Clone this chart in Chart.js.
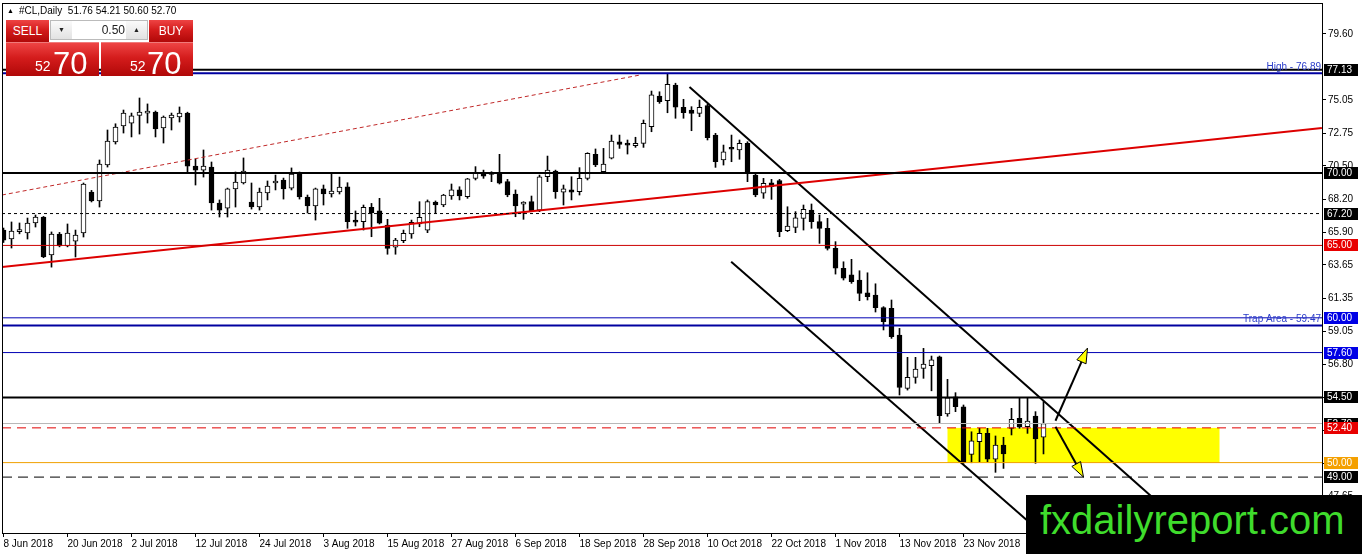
<!DOCTYPE html>
<html>
<head>
<meta charset="utf-8">
<title>#CL,Daily</title>
<script src="https://cdn.jsdelivr.net/npm/chart.js@4.4.1/dist/chart.umd.min.js"></script>
<style>
  body { margin: 0; background: #fff; overflow: hidden; }
  #wrap { position: relative; width: 1362px; height: 554px; font-family: "Liberation Sans", Arial, sans-serif; }
  #chart { position: absolute; left: 0; top: 0; }
  .abs { position: absolute; }
  #head { left: 7px; top: 5px; font-size: 10px; color: #000; white-space: nowrap; }
  #head .tri { font-size: 7px; margin-right: 5px; vertical-align: 1px; }
  .red { background: linear-gradient(#ee4444, #d41c1c 45%, #b00808); color: #fff; }
  .btn { height: 22px; font-size: 12px; line-height: 22px; text-align: center; }
  #sell { left: 6px; top: 20px; width: 43px; }
  #buy { left: 149px; top: 20px; width: 44px; }
  #spin { left: 50px; top: 20px; width: 98px; height: 20px; background: #fff; border: 1px solid #bbb; box-sizing: border-box; }
  #spin .b { position: absolute; top: 0; width: 21px; height: 18px; background: linear-gradient(#fafafa, #e2e2e2); font-size: 7px; line-height: 18px; text-align: center; color: #222; }
  #spin .v { position: absolute; left: 22px; top: 0; width: 52px; height: 18px; font-size: 12px; line-height: 18px; text-align: right; color: #222; }
  .px { top: 42px; height: 34px; border-top: 1px solid #f07a7a; box-sizing: border-box; }
  .px .s { position: absolute; top: 15px; font-size: 14px; }
  .px .l { position: absolute; top: 3px; font-size: 31px; }
  #pxs { left: 6px; width: 93px; }
  #pxb { left: 101px; width: 92px; }
  #logo { left: 1026px; top: 495px; width: 336px; height: 59px; background: #000; }
  #logo span { position: absolute; left: 14px; top: 3px; font-size: 40px; color: #3fdc2c; }
</style>
</head>
<body>
<div id="wrap">
  <canvas id="chart" width="1362" height="554"></canvas>
  <div id="head" class="abs"><span class="tri">&#9650;</span>#CL,Daily&nbsp; 51.76 54.21 50.60 52.70</div>
  <div id="sell" class="abs btn red">SELL</div>
  <div id="spin" class="abs"><div class="b" style="left:0">&#9660;</div><div class="v">0.50</div><div class="b" style="right:0">&#9650;</div></div>
  <div id="buy" class="abs btn red">BUY</div>
  <div id="pxs" class="abs px red"><span class="s" style="left:29px">52</span><span class="l" style="left:47px">70</span></div>
  <div id="pxb" class="abs px red"><span class="s" style="left:29px">52</span><span class="l" style="left:46px">70</span></div>
  <div id="logo" class="abs"><span>fxdailyreport.com</span></div>
</div>
<script>
// daily candles, 8 Jun 2018 .. 7 Dec 2018 (bar index 0..130)
let opens = [
  66.06, 65.44, 65.95, 65.86, 66.55, 66.96, 64.34, 65.79, 64.96, 65.30,
  65.86, 68.69, 68.07, 70.55, 72.14, 73.25, 73.45, 73.97, 74.14, 74.21,
  73.11, 73.80, 73.87, 74.14, 70.48, 70.20, 70.41, 67.93, 67.58, 68.90,
  69.31, 68.00, 67.65, 68.62, 69.31, 69.52, 68.96, 70.00, 68.34, 67.72,
  68.90, 68.55, 68.69, 69.05, 66.75, 66.64, 67.63, 67.38, 66.41, 64.87,
  65.32, 65.79, 66.48, 66.06, 68.00, 67.79, 68.41, 68.83, 68.36, 69.63,
  69.98, 69.90, 70.02, 69.40, 68.55, 67.85, 68.02, 67.44, 69.74, 70.14,
  68.67, 68.83, 68.71, 69.63, 71.29, 70.09, 71.02, 72.16, 71.98, 71.89,
  72.05, 73.20, 75.32, 74.99, 76.08, 74.54, 74.35, 74.12, 74.65, 72.62,
  70.90, 71.77, 71.59, 72.05, 69.86, 68.60, 69.33, 69.47, 66.02, 66.25,
  66.87, 67.44, 66.64, 66.18, 64.80, 63.42, 62.96, 62.61, 61.73, 61.57,
  60.70, 60.66, 58.81, 55.13, 55.89, 56.51, 56.69, 57.31, 53.36, 54.55,
  53.86, 50.57, 51.44, 52.02, 50.23, 51.22, 52.37, 53.06, 52.48, 53.22,
  51.76
];
let highs = [
  66.20, 66.62, 66.55, 66.89, 67.10, 67.00, 65.93, 65.90, 66.48, 66.06,
  69.31, 68.80, 70.90, 72.97, 73.40, 74.35, 74.14, 75.18, 74.77, 74.28,
  73.94, 74.14, 74.56, 74.20, 70.97, 71.59, 70.76, 68.14, 68.96, 70.07,
  71.04, 69.31, 68.96, 69.45, 69.86, 69.65, 70.35, 70.07, 68.48, 68.96,
  69.17, 69.93, 69.72, 69.33, 67.38, 67.79, 67.90, 68.25, 66.80, 65.49,
  66.06, 66.75, 68.02, 68.14, 68.07, 68.53, 69.24, 69.05, 69.63, 70.44,
  70.20, 70.09, 71.29, 69.56, 68.83, 68.02, 68.41, 69.86, 71.17, 70.20,
  69.17, 69.74, 70.37, 71.40, 71.66, 71.70, 72.62, 72.62, 72.28, 72.47,
  73.66, 75.66, 75.61, 76.89, 76.20, 75.09, 74.58, 75.04, 74.75, 72.74,
  71.93, 72.62, 72.28, 72.16, 69.93, 69.63, 69.56, 69.56, 67.67, 67.33,
  67.79, 67.86, 67.10, 66.87, 65.26, 63.87, 64.04, 63.25, 63.11, 62.35,
  60.77, 61.23, 59.27, 57.27, 57.27, 57.89, 57.36, 57.36, 55.75, 54.83,
  53.98, 52.13, 52.37, 52.37, 51.84, 51.75, 53.75, 54.44, 54.44, 53.52,
  54.21
];
let lows = [
  65.20, 64.82, 65.80, 65.44, 66.27, 64.15, 63.50, 64.90, 64.90, 64.20,
  65.58, 68.00, 67.65, 70.41, 72.00, 72.76, 72.49, 72.69, 73.45, 72.49,
  72.07, 72.97, 73.52, 70.00, 69.17, 69.72, 67.44, 66.96, 66.96, 67.65,
  69.24, 67.51, 67.44, 68.14, 68.83, 68.20, 68.83, 68.20, 67.24, 66.75,
  67.79, 68.34, 68.55, 66.18, 66.34, 66.06, 65.60, 66.48, 64.39, 64.39,
  65.19, 65.49, 66.29, 65.88, 67.22, 67.67, 68.18, 68.14, 68.25, 69.52,
  69.63, 69.40, 69.24, 68.36, 66.98, 66.80, 67.33, 67.33, 69.40, 68.25,
  67.79, 68.14, 68.48, 69.52, 70.44, 69.98, 70.97, 71.70, 71.31, 71.77,
  71.77, 72.85, 74.81, 74.16, 73.78, 73.78, 72.92, 73.89, 72.28, 70.39,
  70.55, 70.78, 70.95, 69.40, 68.36, 68.25, 68.18, 65.60, 65.95, 65.88,
  66.06, 66.18, 65.14, 64.68, 63.02, 62.61, 62.38, 61.18, 61.23, 60.40,
  59.16, 58.58, 54.67, 55.01, 55.48, 55.82, 54.96, 52.71, 53.20, 53.52,
  49.95, 49.99, 50.06, 50.06, 49.33, 49.60, 51.91, 52.37, 52.02, 49.95,
  50.60
];
let closes = [
  65.37, 65.99, 66.00, 66.55, 66.96, 64.20, 65.79, 64.96, 65.86, 65.72,
  69.24, 68.07, 70.62, 72.21, 73.18, 74.14, 73.94, 74.21, 74.28, 73.04,
  73.87, 74.00, 74.14, 70.48, 70.20, 70.48, 67.93, 67.44, 68.90, 69.38,
  70.14, 67.65, 68.69, 69.10, 69.45, 68.90, 69.93, 68.34, 67.72, 68.90,
  68.55, 68.76, 69.03, 66.64, 66.60, 67.63, 67.26, 66.53, 64.80, 65.37,
  65.83, 66.60, 66.94, 68.02, 67.79, 68.48, 68.83, 68.41, 69.59, 69.98,
  69.79, 70.02, 69.29, 68.48, 67.72, 67.90, 67.40, 69.74, 70.20, 68.71,
  68.90, 68.67, 69.63, 71.36, 70.55, 70.62, 72.21, 71.98, 71.93, 72.05,
  73.43, 75.39, 74.92, 76.12, 74.54, 74.16, 74.12, 74.54, 72.44, 70.78,
  71.47, 71.64, 72.05, 69.98, 68.48, 69.29, 69.05, 65.95, 66.34, 66.91,
  67.49, 66.64, 66.18, 64.80, 63.42, 62.73, 62.50, 61.69, 61.46, 60.70,
  59.73, 58.70, 55.20, 55.89, 56.46, 56.81, 57.09, 53.24, 54.48, 53.86,
  49.99, 51.51, 52.02, 50.23, 51.22, 50.60, 52.99, 52.44, 52.87, 51.63,
  52.70
];

// time axis labels (every 8th bar)
let dateIdx = [0, 8, 16, 24, 32, 40, 48, 56, 64, 72, 80, 88, 96, 104, 112, 120];
let dateLabels = ['8 Jun 2018', '20 Jun 2018', '2 Jul 2018', '12 Jul 2018', '24 Jul 2018',
  '3 Aug 2018', '15 Aug 2018', '27 Aug 2018', '6 Sep 2018', '18 Sep 2018', '28 Sep 2018',
  '10 Oct 2018', '22 Oct 2018', '1 Nov 2018', '13 Nov 2018', '23 Nov 2018'];

// price scale
let priceTicks = [79.60, 75.05, 72.75, 70.50, 68.20, 65.90, 63.65, 61.35, 59.05, 56.80, 54.50, 52.20, 49.95, 47.65];

// horizontal levels drawn on the chart
let levelValues = [77.13, 76.89, 70.00, 67.20, 65.00, 60.00, 59.47, 57.60, 54.50, 52.70, 52.40, 50.00, 49.00];
let levelColors = ['#000000', '#0000a0', '#000000', '#000000', '#cc0000', '#0000b4', '#0000a0', '#0000b4', '#000000', '#b8b8b8', '#e00000', '#f0a000', '#000000'];
let levelWidths = [2, 2, 2, 1, 1, 1, 2, 1, 2, 1, 1, 1, 1];
let levelDashes = [[], [], [], [3, 3], [], [], [], [], [], [], [9, 6], [], [10, 6]];

// price labels on the right scale
let boxValues = [77.13, 70.00, 67.20, 65.00, 60.00, 57.60, 54.50, 52.70, 52.40, 50.00, 49.00];
let boxColors = ['#000', '#000', '#000', '#e80000', '#0000e6', '#0000e6', '#000', '#000', '#e80000', '#f4a000', '#000'];

// trend lines / channel (bar index, price)
let redTrend = [{x: -0.19, y: 63.51}, {x: 164.8, y: 73.11}];
let redDotted = [{x: -0.19, y: 68.48}, {x: 79.6, y: 76.77}];
let channelTop = [{x: 85.75, y: 75.94}, {x: 145.9, y: 46.48}];
let channelBottom = [{x: 90.96, y: 63.87}, {x: 128.4, y: 45.79}];

// yellow zone and the two arrows
let zoneX = [118, 152];
let zoneY = [50.00, 52.40];
let arrowUp = [[131.5, 52.89], [135.5, 57.91]];
let arrowDown = [[131.5, 52.47], [135.0, 49.00]];

const xMin = -0.1875, xMax = 164.8125;

let datasets = [];

levelValues.forEach((v, k) => {
  datasets.push({
    type: 'line',
    data: [{x: xMin, y: v}, {x: xMax, y: v}],
    borderColor: levelColors[k],
    borderWidth: levelWidths[k],
    borderDash: levelDashes[k],
    pointRadius: 0,
    order: 0,
  });
});

const addTrend = (pts, color, width, dash) => {
  datasets.push({
    type: 'line', data: pts, borderColor: color, borderWidth: width,
    borderDash: dash, pointRadius: 0, order: 0,
  });
};
addTrend(redTrend, '#dd0000', 2, []);
addTrend(redDotted, '#c02828', 1, [4, 3]);
addTrend(channelTop, '#000', 2, []);
addTrend(channelBottom, '#000', 2, []);

// candles: wick + body as two floating bar sets
datasets.push({
  type: 'bar',
  data: highs.map((h, i) => ({x: i, y: [lows[i], h]})),
  backgroundColor: '#000',
  barThickness: 1,
  grouped: false,
  order: 3,
});
datasets.push({
  type: 'bar',
  data: opens.map((o, i) => ({x: i, y: [o, closes[i]]})),
  backgroundColor: opens.map((o, i) => closes[i] >= o ? '#fff' : '#000'),
  borderColor: '#000',
  borderWidth: 1,
  borderSkipped: false,
  barThickness: 5,
  minBarLength: 2,
  grouped: false,
  order: 2,
});

const drawArrow = (ctx, x1, y1, x2, y2) => {
  let ang = Math.atan2(y2 - y1, x2 - x1);
  let len = 15, half = 5;
  let bx = x2 - Math.cos(ang) * len, by = y2 - Math.sin(ang) * len;
  ctx.save();
  ctx.strokeStyle = '#000';
  ctx.lineWidth = 2;
  ctx.beginPath();
  ctx.moveTo(x1, y1);
  ctx.lineTo(bx, by);
  ctx.stroke();
  ctx.beginPath();
  ctx.moveTo(x2, y2);
  ctx.lineTo(bx + Math.sin(ang) * half, by - Math.cos(ang) * half);
  ctx.lineTo(bx - Math.sin(ang) * half, by + Math.cos(ang) * half);
  ctx.closePath();
  ctx.fillStyle = '#ffff00';
  ctx.fill();
  ctx.lineWidth = 1;
  ctx.stroke();
  ctx.restore();
};

const mt4Objects = {
  id: 'mt4Objects',
  beforeDatasetsDraw(chart) {
    let {ctx, scales: {x, y}} = chart;
    let x0 = x.getPixelForValue(zoneX[0]), x1 = x.getPixelForValue(zoneX[1]);
    let y0 = y.getPixelForValue(zoneY[1]), y1 = y.getPixelForValue(zoneY[0]);
    ctx.save();
    ctx.fillStyle = '#ffff00';
    ctx.fillRect(x0, y0, x1 - x0, y1 - y0);
    ctx.restore();
  },
  afterDatasetsDraw(chart) {
    let {ctx, chartArea, scales: {x, y}} = chart;
    [arrowUp, arrowDown].forEach((a) => {
      drawArrow(ctx, x.getPixelForValue(a[0][0]), y.getPixelForValue(a[0][1]),
        x.getPixelForValue(a[1][0]), y.getPixelForValue(a[1][1]));
    });
    ctx.save();
    ctx.font = '10px "Liberation Sans", Arial, sans-serif';
    ctx.fillStyle = '#2a3cc8';
    ctx.textAlign = 'right';
    ctx.textBaseline = 'alphabetic';
    ctx.fillText('High - 76.89', chartArea.right - 1, y.getPixelForValue(76.89) - 3);
    ctx.fillText('Trap Area - 59.47', chartArea.right - 1, y.getPixelForValue(59.47) - 3);
    ctx.restore();
  },
  afterDraw(chart) {
    let {ctx, chartArea, scales: {y}} = chart;
    ctx.save();
    ctx.strokeStyle = '#000';
    ctx.lineWidth = 1;
    ctx.strokeRect(chartArea.left + 0.5, chartArea.top + 0.5, chartArea.right - chartArea.left, chartArea.bottom - chartArea.top);
    ctx.font = '10px "Liberation Sans", Arial, sans-serif';
    ctx.textBaseline = 'middle';
    ctx.textAlign = 'left';
    boxValues.forEach((v, k) => {
      let py = Math.round(y.getPixelForValue(v));
      ctx.fillStyle = boxColors[k];
      ctx.fillRect(chartArea.right + 2, py - 6, 34, 12);
      ctx.fillStyle = '#fff';
      ctx.fillText(v.toFixed(2), chartArea.right + 5, py);
    });
    ctx.restore();
  },
};

let chartEl = document.getElementById('chart');
new Chart(chartEl, {
  type: 'bar',
  data: {datasets: datasets},
  options: {
    responsive: false,
    animation: false,
    devicePixelRatio: 1,
    layout: {padding: {left: 2, top: 3, right: 0, bottom: 0}},
    plugins: {legend: {display: false}, tooltip: {enabled: false}},
    scales: {
      x: {
        type: 'linear',
        min: xMin,
        max: xMax,
        offset: false,
        grid: {drawOnChartArea: false, tickLength: 4, color: '#000', offset: false},
        border: {color: '#000'},
        ticks: {
          autoSkip: false,
          maxRotation: 0,
          align: 'start',
          padding: 1,
          color: '#000',
          font: {family: '"Liberation Sans", Arial, sans-serif', size: 10},
          callback: (v) => dateLabels[dateIdx.indexOf(v)] || '',
        },
        afterBuildTicks: (s) => { s.ticks = dateIdx.map((v) => ({value: v})); },
        afterFit: (s) => { s.height = 21; s.paddingLeft = 0; s.paddingRight = 0; },
      },
      y: {
        type: 'linear',
        position: 'right',
        min: 45.14,
        max: 81.74,
        grid: {drawOnChartArea: false, tickLength: 4, color: '#000'},
        border: {color: '#000'},
        ticks: {
          padding: 2,
          color: '#000',
          font: {family: '"Liberation Sans", Arial, sans-serif', size: 10},
          callback: (v) => Number(v).toFixed(2),
        },
        afterBuildTicks: (s) => { s.ticks = priceTicks.map((v) => ({value: v})); },
        afterFit: (s) => { s.width = 40; s.paddingTop = 0; s.paddingBottom = 0; },
      },
    },
  },
  plugins: [mt4Objects],
});
</script>
</body>
</html>
